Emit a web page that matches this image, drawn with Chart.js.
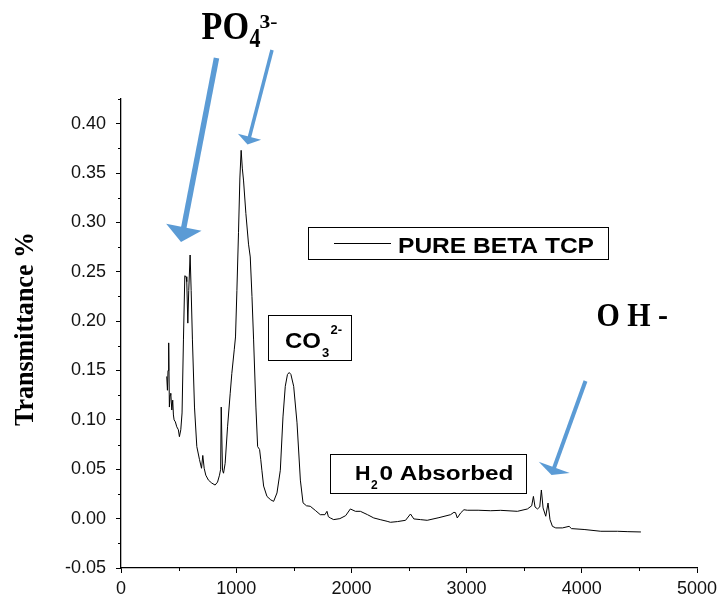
<!DOCTYPE html>
<html>
<head>
<meta charset="utf-8">
<title>FTIR - Pure beta TCP</title>
<script src="https://cdn.jsdelivr.net/npm/chart.js@4"></script>
<style>
  html, body { margin: 0; padding: 0; background: #fff; }
  #ftir { display: block; }
</style>
</head>
<body>
<canvas id="ftir" width="718" height="602"></canvas>
<script>
// FTIR spectrum of pure beta TCP (wavenumber, cm-1)
const wavenumber = [
    397, 403, 408, 414, 420, 426, 432, 441, 449, 455, 461, 472, 484, 498, 507, 519, 530,
    542, 554, 565, 571, 580, 588, 600, 609, 620, 638, 658, 681, 699, 710, 722, 736, 759,
    788, 817, 838, 855, 865, 870, 881, 890, 904, 925, 948, 962, 983, 994, 1006, 1020,
    1032, 1043, 1053, 1064, 1084, 1107, 1122, 1137, 1151, 1171, 1186, 1203, 1213, 1223,
    1238, 1267, 1300, 1325, 1354, 1383, 1406, 1426, 1445, 1460, 1475, 1499, 1528, 1557,
    1580, 1610, 1643, 1690, 1730, 1770, 1788, 1800, 1817, 1846, 1900, 1950, 1991, 2035,
    2078, 2140, 2194, 2250, 2310, 2339, 2400, 2470, 2513, 2542, 2600, 2658, 2760, 2861,
    2890, 2904, 2919, 2950, 2977, 3006, 3100, 3209, 3296, 3441, 3528, 3565, 3580, 3594,
    3615, 3635, 3649, 3664, 3687, 3707, 3724, 3745, 3774, 3832, 3890, 3910, 4020, 4165,
    4310, 4400, 4513
];
const transmittance = [
    0.144, 0.130, 0.150, 0.178, 0.113, 0.125, 0.127, 0.110, 0.120, 0.105, 0.100, 0.098, 0.093, 0.090, 0.083, 0.090, 0.107,
    0.181, 0.246, 0.245, 0.240, 0.198, 0.231, 0.267, 0.231, 0.181, 0.113, 0.073, 0.060, 0.051, 0.064, 0.051, 0.044, 0.039,
    0.036, 0.034, 0.037, 0.044, 0.050, 0.113, 0.049, 0.046, 0.056, 0.093, 0.127, 0.147, 0.171, 0.184, 0.231, 0.290,
    0.345, 0.373, 0.355, 0.342, 0.309, 0.278, 0.265, 0.225, 0.181, 0.113, 0.073, 0.070, 0.060, 0.049,
    0.033, 0.0225, 0.019, 0.0175, 0.026, 0.049, 0.103, 0.134, 0.146, 0.148, 0.146, 0.134, 0.097, 0.039,
    0.016, 0.013, 0.0125, 0.008, 0.004, 0.004, 0.0074, 0.002, 0.0007, -0.001, 0.000, 0.003, 0.0098, 0.0074,
    0.0074, 0.004, 0.0007, -0.001, -0.0027, -0.0037, -0.003, -0.0017, 0.0047, -0.0003, -0.001, -0.0017, 0.001, 0.004,
    0.0064, 0.006, 0.0007, 0.006, 0.009, 0.0085, 0.0085, 0.008, 0.0084, 0.0074, 0.0098, 0.013, 0.0225, 0.0118,
    0.0098, 0.0118, 0.029, 0.0108, 0.0024, 0.0158, -0.001, -0.0078, -0.0094, -0.0094, -0.0078, -0.0101, -0.011, -0.0128,
    -0.0128, -0.0132, -0.0135
];

const seriesName = 'PURE BETA TCP';
const xTicks = [0, 1000, 2000, 3000, 4000, 5000];
const xMinorTicks = [500, 1500, 2500, 3500, 4500];
const yTicks = [-0.05, 0, 0.05, 0.10, 0.15, 0.20, 0.25, 0.30, 0.35, 0.40];
const yMinorTicks = [-0.025, 0.025, 0.075, 0.125, 0.175, 0.225, 0.275, 0.325, 0.375, 0.425];

const SANS = '"Liberation Sans", Arial, sans-serif';
const SERIF = '"Liberation Serif", "Times New Roman", serif';
const BLUE = '#5b9bd5';

// text helper: optional width squeezes/stretches the string horizontally
function drawText(ctx, str, x, y, font, width) {
    ctx.save();
    ctx.font = font;
    ctx.fillStyle = '#000';
    ctx.textBaseline = 'alphabetic';
    ctx.textAlign = 'left';
    ctx.translate(x, y);
    if (width) {
        const w = ctx.measureText(str).width;
        ctx.scale(width / w, 1);
    }
    ctx.fillText(str, 0, 0);
    ctx.restore();
}

function drawArrow(ctx, x0, y0, x1, y1, shaft, headW, headL) {
    const dx = x1 - x0, dy = y1 - y0;
    const len = Math.hypot(dx, dy);
    const ux = dx / len, uy = dy / len;
    const bx = x1 - ux * headL, by = y1 - uy * headL;
    ctx.save();
    ctx.strokeStyle = BLUE;
    ctx.fillStyle = BLUE;
    ctx.lineWidth = shaft;
    ctx.beginPath();
    ctx.moveTo(x0, y0);
    ctx.lineTo(bx + ux, by + uy);
    ctx.stroke();
    ctx.beginPath();
    ctx.moveTo(x1, y1);
    ctx.lineTo(bx - uy * headW / 2, by + ux * headW / 2);
    ctx.lineTo(bx + uy * headW / 2, by - ux * headW / 2);
    ctx.closePath();
    ctx.fill();
    ctx.restore();
}

function boxAt(ctx, x, y, w, h) {
    ctx.save();
    ctx.strokeStyle = '#000';
    ctx.lineWidth = 1;
    ctx.strokeRect(x + 0.5, y + 0.5, w, h);
    ctx.restore();
}

// minor ticks, axis title, labels and arrows
const decorations = {
    id: 'decorations',
    afterDraw(chart) {
        const ctx = chart.ctx;
        const xs = chart.scales.x, ys = chart.scales.y;
        const area = chart.chartArea;

        ctx.save();
        ctx.strokeStyle = '#000';
        ctx.lineWidth = 1;
        ctx.beginPath();
        xMinorTicks.forEach(v => {
            const px = Math.round(xs.getPixelForValue(v)) + 0.5;
            ctx.moveTo(px, area.bottom);
            ctx.lineTo(px, area.bottom + 3);
        });
        yMinorTicks.forEach(v => {
            const py = Math.round(ys.getPixelForValue(v)) + 0.5;
            ctx.moveTo(area.left, py);
            ctx.lineTo(area.left - 3, py);
        });
        ctx.stroke();
        ctx.restore();

        // y axis title
        ctx.save();
        ctx.translate(33, 329);
        ctx.rotate(-Math.PI / 2);
        ctx.font = 'bold 27px ' + SERIF;
        const tw = ctx.measureText('Transmittance %').width;
        ctx.scale(194 / tw, 1);
        ctx.textAlign = 'center';
        ctx.fillStyle = '#000';
        ctx.fillText('Transmittance %', 0, 0);
        ctx.restore();

        // phosphate label and arrows
        drawText(ctx, 'PO', 201.5, 38.5, 'bold 41px ' + SERIF, 47.5);
        drawText(ctx, '4', 249.5, 47, 'bold 27px ' + SERIF, 11);
        drawText(ctx, '3-', 259.5, 28, 'bold 19px ' + SERIF, 18);
        drawArrow(ctx, 216.5, 58, 181, 242, 5.5, 36, 15);
        drawArrow(ctx, 272, 50, 247.5, 144.5, 3.5, 24, 8);

        // hydroxyl label and arrow
        drawText(ctx, 'O H -', 596.5, 326, 'bold 34px ' + SERIF, 71.5);
        drawArrow(ctx, 585.5, 381, 551.5, 475, 4, 33, 8);

        // legend box
        boxAt(ctx, 308, 227, 300, 32);
        ctx.save();
        ctx.strokeStyle = '#000';
        ctx.lineWidth = 1;
        ctx.beginPath();
        ctx.moveTo(334, 243.5);
        ctx.lineTo(391, 243.5);
        ctx.stroke();
        ctx.restore();
        drawText(ctx, seriesName, 398, 252.5, 'bold 22px ' + SANS, 196);

        // carbonate box
        boxAt(ctx, 268, 315, 83, 45);
        drawText(ctx, 'CO', 285, 348, 'bold 22px ' + SANS, 36);
        drawText(ctx, '3', 322, 357, 'bold 13px ' + SANS);
        drawText(ctx, '2-', 330.5, 334, 'bold 13px ' + SANS);

        // absorbed water box
        boxAt(ctx, 330, 454, 196, 39);
        drawText(ctx, 'H', 355, 480, 'bold 20px ' + SANS, 15.5);
        drawText(ctx, '2', 371, 489, 'bold 12px ' + SANS);
        drawText(ctx, '0 Absorbed', 379.5, 480, 'bold 20px ' + SANS, 134);
    }
};

const points = wavenumber.map((w, i) => ({ x: w, y: transmittance[i] }));

new Chart(document.getElementById('ftir').getContext('2d'), {
    type: 'line',
    data: {
        datasets: [{
            label: seriesName,
            data: points,
            borderColor: '#000',
            borderWidth: 1,
            pointRadius: 0,
            tension: 0,
            fill: false
        }]
    },
    options: {
        responsive: false,
        animation: false,
        layout: { padding: { top: 99, right: 21, left: 0, bottom: 0 } },
        plugins: {
            legend: { display: false },
            tooltip: { enabled: false }
        },
        scales: {
            x: {
                type: 'linear',
                min: 0,
                max: 5000,
                afterBuildTicks: scale => { scale.ticks = xTicks.map(v => ({ value: v })); },
                afterFit: scale => {
                    scale.height = 34;
                    scale.paddingLeft = 0;
                    scale.paddingRight = 0;
                },
                ticks: {
                    color: '#111',
                    font: { family: SANS, size: 18 },
                    padding: 5,
                    maxRotation: 0,
                    autoSkip: false,
                    callback: v => String(v)
                },
                grid: {
                    drawOnChartArea: false,
                    drawTicks: true,
                    tickLength: 5,
                    tickColor: '#000',
                    tickWidth: 1
                },
                border: { color: '#000', width: 1.3 }
            },
            y: {
                type: 'linear',
                min: -0.05,
                max: 0.425,
                afterBuildTicks: scale => { scale.ticks = yTicks.map(v => ({ value: v })); },
                afterFit: scale => {
                    scale.width = 121;
                    scale.paddingTop = 0;
                    scale.paddingBottom = 0;
                },
                ticks: {
                    color: '#111',
                    font: { family: SANS, size: 18 },
                    padding: 10,
                    callback: v => v.toFixed(2)
                },
                grid: {
                    drawOnChartArea: false,
                    drawTicks: true,
                    tickLength: 5,
                    tickColor: '#000',
                    tickWidth: 1
                },
                border: { color: '#000', width: 1.3 }
            }
        }
    },
    plugins: [decorations]
});
</script>
</body>
</html>
